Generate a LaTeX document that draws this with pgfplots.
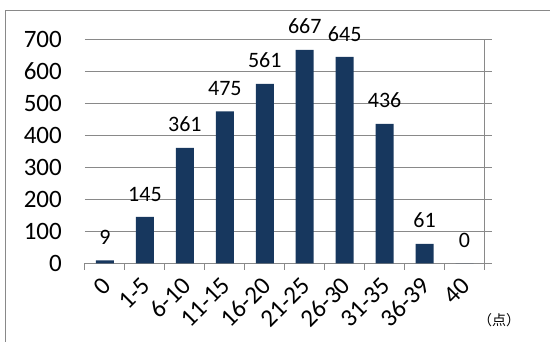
\documentclass[border=0pt]{standalone}
\usepackage{pgfplots}
\pgfplotsset{compat=1.18}
\usepackage{fontspec}
\setmainfont{Carlito}
\newfontfamily\cjk{Noto Sans CJK JP}

\definecolor{barnavy}{HTML}{17375E}
\definecolor{linegray}{HTML}{898989}

\begin{document}
\begin{tikzpicture}
\useasboundingbox (0,0) rectangle (550pt,342pt);
% outer frame
\draw[linegray, line width=1pt] (5.5pt,0) -- (5.5pt,331.3pt) -- (550pt,331.3pt);
\begin{axis}[
  at={(85pt,78.7pt)}, anchor=south west,
  scale only axis, width=399.5pt, height=224pt,
  xmin=-0.5, xmax=9.5, ymin=0, ymax=700,
  axis line style={draw=none},
  major tick length=0pt,
  xtick={0,...,9},
  xticklabels={0,1-5,6-10,11-15,16-20,21-25,26-30,31-35,36-39,40},
  ytick={0,100,...,700},
  /pgf/number format/assume math mode=true,
  xticklabel style={font=\fontsize{25}{28}\selectfont, anchor=east, inner sep=0pt, xshift=1.5pt, yshift=-18pt, rotate=45},
  yticklabel style={font=\fontsize{25}{28}\selectfont, anchor=east, inner sep=0pt, xshift=-23pt},
  ybar, bar width=18pt,
  nodes near coords,
  every node near coord/.append style={font=\fontsize{22}{26}\selectfont, text=black, inner sep=0pt, anchor=south, yshift=15.5pt},
  clip=false,
]
% horizontal gridlines with short outside ticks on the right
\pgfplotsinvokeforeach{0,100,...,700}{
  \draw[linegray, line width=1pt] (axis cs:-0.5,#1) -- ([xshift=7pt]axis cs:9.5,#1);
}
% right vertical axis line
\draw[linegray, line width=1pt] (axis cs:9.5,0) -- (axis cs:9.5,700);
% category boundary ticks below the baseline
\pgfplotsinvokeforeach{-0.5,0.5,...,9.5}{
  \draw[linegray, line width=1pt] (axis cs:#1,0) -- ([yshift=-7pt]axis cs:#1,0);
}
\addplot[fill=barnavy, draw=none] coordinates {
  (0,9) (1,145) (2,361) (3,475) (4,561) (5,667) (6,645) (7,436) (8,61) (9,0)
};
\end{axis}
\node[font=\cjk\fontsize{14}{16}\selectfont] at (499pt,22pt) {（点）};
\end{tikzpicture}
\end{document}
